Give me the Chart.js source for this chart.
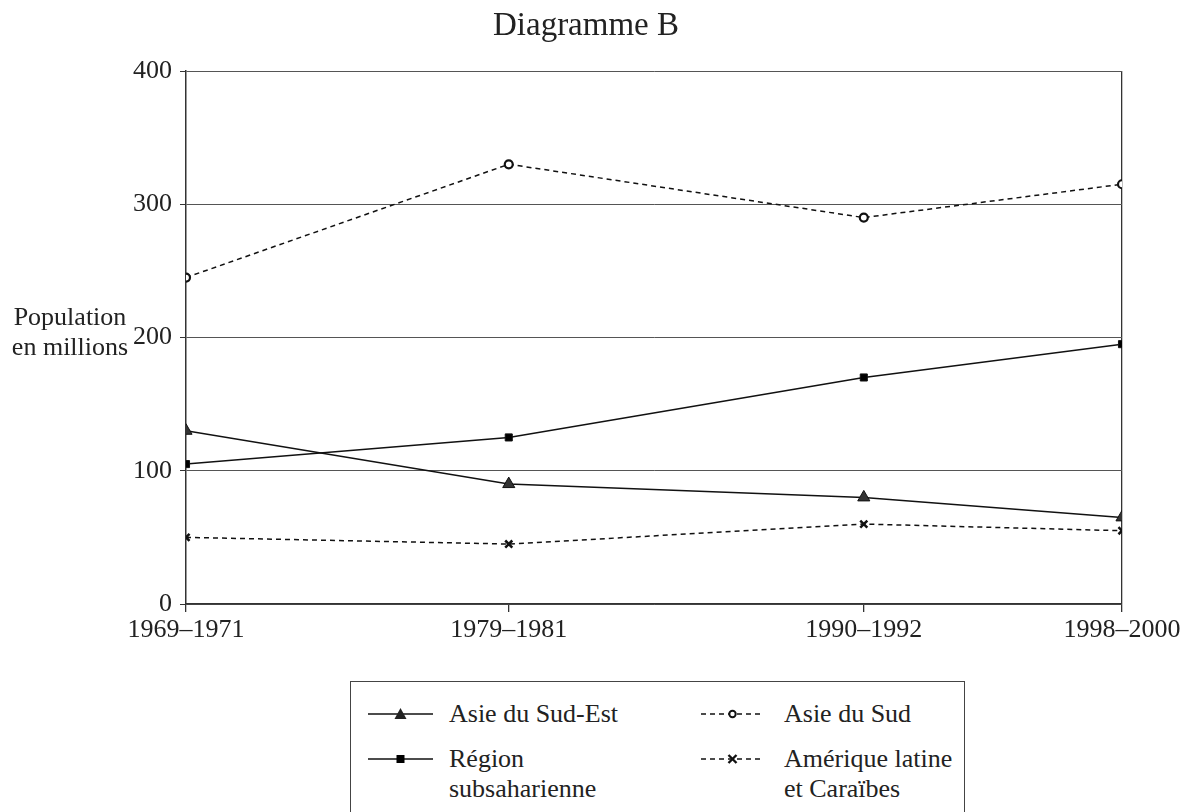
<!DOCTYPE html>
<html>
<head>
<meta charset="utf-8">
<script src="https://cdn.jsdelivr.net/npm/chart.js@4"></script>
<style>
  body { margin: 0; background: #fff; font-family: "Liberation Serif", serif; color: #222; }
  #wrap { position: relative; width: 1190px; height: 812px; overflow: hidden; }
  #chartBox { position: absolute; left: 0; top: 0; width: 1190px; height: 670px; }
  #legend { position: absolute; left: 350px; top: 681px; width: 613px; height: 160px;
            border: 1px solid #444; font-size: 26px; }
  .item { position: absolute; display: flex; align-items: flex-start; line-height: 30px; }
</style>
</head>
<body>
<div id="wrap">
  <div id="chartBox"><canvas id="chart"></canvas></div>
  <div id="legend"></div>
</div>
<script>
// données du graphique
const periodes = ['1969–1971', '1979–1981', '1990–1992', '1998–2000'];
const annees = [1970, 1980, 1991, 1999];
const asieSudEst = [130, 90, 80, 65];
const subsaharienne = [105, 125, 170, 195];
const asieSud = [245, 330, 290, 315];
const ameriqueLatine = [50, 45, 60, 55];
const yTicks = [0, 100, 200, 300, 400];

const FONT = '"Liberation Serif", "Times New Roman", serif';
const INK = '#222';

function points(vals) {
    return vals.map((v, i) => ({ x: annees[i], y: v }));
}

const series = [
    { label: 'Asie du Sud-Est', data: asieSudEst, style: 'triangle', radius: 7, dash: [], bw: 1, fill: '#333' },
    { label: 'Région subsaharienne', data: subsaharienne, style: 'rect', radius: 5, dash: [], bw: 1, fill: '#000' },
    { label: 'Asie du Sud', data: asieSud, style: 'circle', radius: 4, dash: [5, 4], bw: 2.2, fill: '#fff' },
    { label: 'Amérique latine et Caraïbes', data: ameriqueLatine, style: 'crossRot', radius: 5, dash: [5, 4], bw: 2.5, fill: '#000' }
];

// Titre et titre de l'axe Y (texte horizontal)
const textes = {
    id: 'textes',
    afterDraw(chart) {
        const ctx = chart.ctx;
        ctx.save();
        ctx.fillStyle = INK;
        ctx.font = '33px ' + FONT;
        ctx.textAlign = 'center';
        ctx.textBaseline = 'middle';
        ctx.fillText('Diagramme B', 586, 26);
        ctx.font = '26px ' + FONT;
        const y200 = chart.scales.y.getPixelForValue(200);
        ctx.fillText('Population', 70, y200 - 19);
        ctx.fillText('en millions', 70, y200 + 11);
        ctx.restore();
    }
};

const ctx = document.getElementById('chart').getContext('2d');
const chart = new Chart(ctx, {
    type: 'line',
    data: {
        datasets: series.map(s => ({
            label: s.label,
            data: points(s.data),
            borderColor: '#111',
            borderWidth: 1.5,
            borderDash: s.dash,
            pointStyle: s.style,
            pointRadius: s.radius,
            pointBackgroundColor: s.fill,
            pointBorderColor: '#111',
            pointBorderWidth: s.bw,
            tension: 0
        }))
    },
    options: {
        responsive: true,
        maintainAspectRatio: false,
        animation: false,
        layout: { padding: { left: 0, right: 68, top: 71, bottom: 0 } },
        plugins: { legend: { display: false }, tooltip: { enabled: false } },
        scales: {
            x: {
                type: 'linear',
                min: annees[0],
                max: annees[annees.length - 1],
                afterBuildTicks: scale => { scale.ticks = annees.map(v => ({ value: v })); },
                afterFit: scale => { scale.height = 66; },
                ticks: {
                    callback: (v, i) => periodes[i],
                    font: { family: FONT, size: 26 },
                    color: INK,
                    maxRotation: 0,
                    padding: 3
                },
                grid: {
                    drawOnChartArea: true,
                    color: c => (c.index === annees.length - 1 ? '#333' : 'rgba(0,0,0,0)'),
                    tickColor: '#333',
                    tickLength: 8,
                    lineWidth: 1.3
                },
                border: { display: true, color: '#333', width: 1.5 }
            },
            y: {
                min: 0,
                max: 400,
                afterBuildTicks: scale => { scale.ticks = yTicks.map(v => ({ value: v })); },
                afterFit: scale => { scale.width = 186; },
                ticks: {
                    font: { family: FONT, size: 26 },
                    color: INK,
                    padding: 8
                },
                grid: { color: '#555', lineWidth: 1, tickColor: '#333', tickLength: 6 },
                border: { display: true, color: '#333', width: 1.5 }
            }
        }
    },
    plugins: [textes]
});

// Légende en HTML
function sample(s, w) {
    const dash = s.dash.length ? 'stroke-dasharray="5 4"' : '';
    const cx = w / 2, cy = 15;
    let m = '';
    if (s.style === 'triangle') m = `<polygon points="${cx - 6},${cy + 5} ${cx + 6},${cy + 5} ${cx},${cy - 6}" fill="#222"/>`;
    if (s.style === 'rect') m = `<rect x="${cx - 4}" y="${cy - 4}" width="8" height="8" fill="#000"/>`;
    if (s.style === 'circle') m = `<circle cx="${cx}" cy="${cy}" r="3.2" fill="#fff" stroke="#111" stroke-width="2"/>`;
    if (s.style === 'crossRot') m = `<path d="M${cx - 4} ${cy - 4}L${cx + 4} ${cy + 4}M${cx + 4} ${cy - 4}L${cx - 4} ${cy + 4}" stroke="#111" stroke-width="2.4"/>`;
    return `<svg width="${w}" height="30"><line x1="0" y1="${cy}" x2="${w}" y2="${cy}" stroke="#111" stroke-width="1.3" ${dash}/>${m}</svg>`;
}

const legendPos = [
    { left: 17, top: 17, w: 65, gap: 16, text: 'Asie du Sud-Est' },
    { left: 17, top: 62, w: 65, gap: 16, text: 'Région<br>subsaharienne' },
    { left: 350, top: 17, w: 63, gap: 20, text: 'Asie du Sud' },
    { left: 350, top: 62, w: 63, gap: 20, text: 'Amérique latine<br>et Caraïbes' }
];
const legend = document.getElementById('legend');
series.forEach((s, i) => {
    const p = legendPos[i];
    const div = document.createElement('div');
    div.className = 'item';
    div.style.left = p.left + 'px';
    div.style.top = p.top + 'px';
    div.innerHTML = sample(s, p.w) + `<span style="margin-left:${p.gap}px">${p.text}</span>`;
    legend.appendChild(div);
});
</script>
</body>
</html>
